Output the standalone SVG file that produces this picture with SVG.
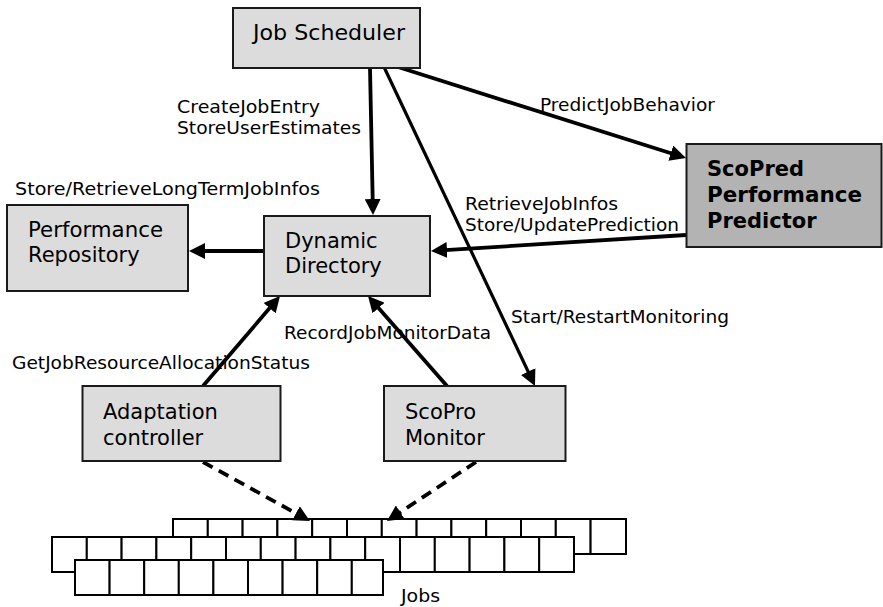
<svg xmlns="http://www.w3.org/2000/svg" width="883" height="607" viewBox="0 0 883 607">
  <style>
    .box { fill: #dcdcdc; stroke: #1a1a1a; stroke-width: 2; }
    .box-dark { fill: #b3b3b3; stroke: #1a1a1a; stroke-width: 2; }
    .name { font-family: "DejaVu Sans", Verdana, sans-serif; font-size: 21px; fill: #000; }
    .name-bold { font-family: "DejaVu Sans", Verdana, sans-serif; font-size: 21px; font-weight: bold; fill: #000; }
    .lbl { font-family: "DejaVu Sans", Verdana, sans-serif; font-size: 18.5px; fill: #000; }
    .edge { fill: none; stroke: #000; stroke-width: 3.8; }
    .edge-thin { fill: none; stroke: #000; stroke-width: 3.2; }
    .edge-dash { fill: none; stroke: #000; stroke-width: 3.8; stroke-dasharray: 11 7; }
    .cell { fill: #fff; stroke: #000; stroke-width: 2; }
  </style>
  <defs>
    <marker id="head" markerUnits="userSpaceOnUse" markerWidth="16" markerHeight="16" viewBox="0 0 16 16" refX="6" refY="8" orient="auto">
      <path d="M0,0 L16,8 L0,16 z" fill="#000"/>
    </marker>
  </defs>

  <rect width="883" height="607" fill="#fff"/>

  <!-- job queue: three overlapping rows of slots -->
  <g id="jobs">
    <g id="jobs-row-back">
      <rect class="cell" x="173" y="519" width="34.8" height="35"/>
      <rect class="cell" x="207.8" y="519" width="34.8" height="35"/>
      <rect class="cell" x="242.6" y="519" width="34.8" height="35"/>
      <rect class="cell" x="277.4" y="519" width="34.8" height="35"/>
      <rect class="cell" x="312.2" y="519" width="34.8" height="35"/>
      <rect class="cell" x="347" y="519" width="34.8" height="35"/>
      <rect class="cell" x="381.8" y="519" width="34.8" height="35"/>
      <rect class="cell" x="416.6" y="519" width="34.8" height="35"/>
      <rect class="cell" x="451.4" y="519" width="34.8" height="35"/>
      <rect class="cell" x="486.2" y="519" width="34.8" height="35"/>
      <rect class="cell" x="521" y="519" width="34.8" height="35"/>
      <rect class="cell" x="555.8" y="519" width="34.8" height="35"/>
      <rect class="cell" x="590.6" y="519" width="35.4" height="35"/>
    </g>
    <g id="jobs-row-middle">
      <rect class="cell" x="52" y="537" width="34.8" height="35"/>
      <rect class="cell" x="86.8" y="537" width="34.8" height="35"/>
      <rect class="cell" x="121.6" y="537" width="34.8" height="35"/>
      <rect class="cell" x="156.4" y="537" width="34.8" height="35"/>
      <rect class="cell" x="191.2" y="537" width="34.8" height="35"/>
      <rect class="cell" x="226" y="537" width="34.8" height="35"/>
      <rect class="cell" x="260.8" y="537" width="34.8" height="35"/>
      <rect class="cell" x="295.6" y="537" width="34.8" height="35"/>
      <rect class="cell" x="330.4" y="537" width="34.8" height="35"/>
      <rect class="cell" x="365.2" y="537" width="34.8" height="35"/>
      <rect class="cell" x="400" y="537" width="34.8" height="35"/>
      <rect class="cell" x="434.8" y="537" width="34.8" height="35"/>
      <rect class="cell" x="469.6" y="537" width="34.8" height="35"/>
      <rect class="cell" x="504.4" y="537" width="34.8" height="35"/>
      <rect class="cell" x="539.2" y="537" width="34.8" height="35"/>
    </g>
    <g id="jobs-row-front">
      <rect class="cell" x="75" y="560" width="34.6" height="35"/>
      <rect class="cell" x="109.6" y="560" width="34.6" height="35"/>
      <rect class="cell" x="144.2" y="560" width="34.6" height="35"/>
      <rect class="cell" x="178.8" y="560" width="34.6" height="35"/>
      <rect class="cell" x="213.4" y="560" width="34.6" height="35"/>
      <rect class="cell" x="248" y="560" width="34.6" height="35"/>
      <rect class="cell" x="282.6" y="560" width="34.6" height="35"/>
      <rect class="cell" x="317.2" y="560" width="34.6" height="35"/>
      <rect class="cell" x="351.8" y="560" width="31.2" height="35"/>
    </g>
    <text class="lbl" x="401" y="602" textLength="39" lengthAdjust="spacingAndGlyphs">Jobs</text>
  </g>

  <!-- connectors -->
  <g id="connectors">
    <path class="edge" d="M370,68 L372.8,205" marker-end="url(#head)"/>
    <path class="edge" d="M398,67 L676.5,155" marker-end="url(#head)"/>
    <path class="edge-thin" d="M384,67 L530.7,377" marker-end="url(#head)"/>
    <path class="edge" d="M686,235 L441,250.4" marker-end="url(#head)"/>
    <path class="edge" d="M263,251 L199,251" marker-end="url(#head)"/>
    <path class="edge" d="M203,386 L273.5,303.6" marker-end="url(#head)"/>
    <path class="edge" d="M447,386 L374.6,303.5" marker-end="url(#head)"/>
    <path class="edge-dash" d="M203,462 L301.2,516.2" marker-end="url(#head)"/>
    <path class="edge-dash" d="M476,462 L395.3,515.5" marker-end="url(#head)"/>

    <text class="lbl" x="177" y="113" textLength="143" lengthAdjust="spacingAndGlyphs">CreateJobEntry</text>
    <text class="lbl" x="177" y="134" textLength="184" lengthAdjust="spacingAndGlyphs">StoreUserEstimates</text>
    <text class="lbl" x="540" y="111" textLength="175" lengthAdjust="spacingAndGlyphs">PredictJobBehavior</text>
    <text class="lbl" x="15" y="195" textLength="305" lengthAdjust="spacingAndGlyphs">Store/RetrieveLongTermJobInfos</text>
    <text class="lbl" x="465" y="210" textLength="153" lengthAdjust="spacingAndGlyphs">RetrieveJobInfos</text>
    <text class="lbl" x="465" y="231" textLength="214" lengthAdjust="spacingAndGlyphs">Store/UpdatePrediction</text>
    <text class="lbl" x="511" y="323" textLength="218" lengthAdjust="spacingAndGlyphs">Start/RestartMonitoring</text>
    <text class="lbl" x="284" y="339" textLength="207" lengthAdjust="spacingAndGlyphs">RecordJobMonitorData</text>
    <text class="lbl" x="12" y="369" textLength="298" lengthAdjust="spacingAndGlyphs">GetJobResourceAllocationStatus</text>
  </g>

  <!-- components -->
  <g id="job-scheduler">
    <rect class="box" x="233" y="8" width="187" height="60"/>
    <text class="name" x="253" y="40" textLength="152" lengthAdjust="spacingAndGlyphs">Job Scheduler</text>
  </g>

  <g id="performance-repository">
    <rect class="box" x="7" y="205" width="181" height="86"/>
    <text class="name" x="28" y="237" textLength="135" lengthAdjust="spacingAndGlyphs">Performance</text>
    <text class="name" x="28" y="262">Repository</text>
  </g>

  <g id="dynamic-directory">
    <rect class="box" x="264" y="216" width="166" height="80"/>
    <text class="name" x="285" y="248">Dynamic</text>
    <text class="name" x="285" y="273">Directory</text>
  </g>

  <g id="scopred-predictor">
    <rect class="box-dark" x="686.5" y="144" width="195" height="103"/>
    <text class="name-bold" x="707" y="176">ScoPred</text>
    <text class="name-bold" x="707" y="202" textLength="155" lengthAdjust="spacingAndGlyphs">Performance</text>
    <text class="name-bold" x="707" y="228">Predictor</text>
  </g>

  <g id="adaptation-controller">
    <rect class="box" x="82.5" y="386" width="198" height="75"/>
    <text class="name" x="103" y="419">Adaptation</text>
    <text class="name" x="103" y="445">controller</text>
  </g>

  <g id="scopro-monitor">
    <rect class="box" x="384" y="386" width="181.5" height="75"/>
    <text class="name" x="405" y="419">ScoPro</text>
    <text class="name" x="405" y="445">Monitor</text>
  </g>
</svg>
